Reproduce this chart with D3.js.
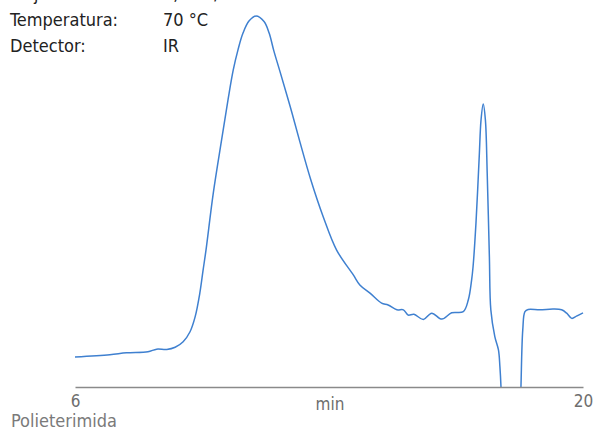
<!DOCTYPE html>
<html>
<head>
<meta charset="utf-8">
<script src="https://cdn.jsdelivr.net/npm/d3@7"></script>
<style>
    body { margin: 0; background: #fff; }
    svg { display: block; }
</style>
</head>
<body>
<div id="chart"></div>
<script>
// retention time (min) and detector signal (arbitrary units)
const time = [6.00, 6.96, 7.42, 8.01, 8.25, 8.53, 8.76, 8.98, 9.17, 9.31, 9.44, 9.53, 9.61, 9.81, 10.04, 10.22, 10.36, 10.49, 10.63, 10.80,
    10.99, 11.21, 11.35, 11.48, 11.65, 11.93, 12.20, 12.50, 12.84, 13.21, 13.67, 13.85, 14.13, 14.45, 14.63, 14.87, 15.05, 15.18, 15.34,
    15.60, 15.83, 16.11, 16.38, 16.70, 16.84, 16.93, 16.97, 17.05, 17.14, 17.19, 17.25, 17.31, 17.36, 17.42, 17.46, 17.57, 17.67, 17.71,
    17.74, 17.77, 18.26, 18.29, 18.34, 18.40, 18.49, 18.81, 19.18, 19.41, 19.55, 19.69, 19.82, 20.00];
const signal = [8.1, 8.7, 9.2, 9.5, 10.2, 10.1, 10.7, 12.2, 14.9, 18.9, 25.3, 31.5, 36.9, 52.2, 66.6, 77.6, 85.4, 90.8, 95.4, 98.7,
    100, 98.5, 95.4, 90.6, 85.0, 75.6, 66.0, 55.8, 45.9, 36.9, 30.2, 27.5, 25.3, 22.6, 22.1, 20.8, 20.8, 19.4, 19.6,
    18.2, 19.9, 18.3, 20.0, 20.3, 23.5, 28.8, 32.4, 44.1, 62.1, 72.0, 76.3, 72.0, 57.6, 35.1, 20.8, 13.6, 10.0, 5.5,
    0, -10, -10, 0, 15.4, 20.3, 20.9, 20.8, 21.0, 20.8, 19.9, 18.5, 19.1, 20.0];

const xTicks = [6, 20];
const xTitle = 'min';
const sampleName = 'Polieterimida';
const conditionLabels = ['Flujo:', 'Temperatura:', 'Detector:'];
const conditionValues = ['1,0 ml/min', '70 °C', 'IR'];

const W = 601, H = 430;
const plotLeft = 75, plotRight = 583, plotTop = 16, axisY = 387;
const FONT = '"Liberation Sans Narrow", "DejaVu Sans Condensed", sans-serif';

const svg = d3.select('#chart').append('svg')
    .attr('width', W).attr('height', H)
    .attr('viewBox', `0 0 ${W} ${H}`);

const x = d3.scaleLinear().domain([6, 20]).range([plotLeft, plotRight]);
const y = d3.scaleLinear().domain([0, 100]).range([axisY, plotTop]);

// conditions block, top left (first row is cut by the page edge, as in the source)
const info = svg.append('g')
    .attr('font-family', FONT)
    .attr('font-size', 18).attr('fill', '#222');
conditionLabels.forEach((d, i) => {
    info.append('text').attr('x', 10).attr('y', i * 26).text(d);
    info.append('text').attr('x', 163).attr('y', i * 26).text(conditionValues[i]);
});

// trace, clipped at the baseline
svg.append('clipPath').attr('id', 'plot-clip')
    .append('rect')
    .attr('x', plotLeft - 2).attr('y', 0)
    .attr('width', plotRight - plotLeft + 4).attr('height', axisY);

const line = d3.line()
    .x((d, i) => x(time[i]))
    .y(d => y(d))
    .curve(d3.curveCatmullRom.alpha(0.5));

svg.append('path')
    .datum(signal)
    .attr('clip-path', 'url(#plot-clip)')
    .attr('fill', 'none')
    .attr('stroke', '#3f80d0')
    .attr('stroke-width', 1.5)
    .attr('stroke-linejoin', 'round')
    .attr('d', line);

// x axis
const axis = svg.append('g')
    .attr('transform', `translate(0,${axisY})`)
    .call(d3.axisBottom(x).tickValues(xTicks).tickSize(0).tickPadding(8).tickFormat(d3.format('d')));
axis.select('.domain').attr('stroke', '#8a8a8a').attr('stroke-width', 1.5);
axis.selectAll('text')
    .attr('font-family', FONT)
    .attr('font-size', 17).attr('fill', '#6e6e6e');

svg.append('text')
    .attr('x', (plotLeft + plotRight) / 2 + 1).attr('y', 410)
    .attr('text-anchor', 'middle')
    .attr('font-family', FONT)
    .attr('font-size', 17).attr('fill', '#6e6e6e')
    .text(xTitle);

svg.append('text')
    .attr('x', 11).attr('y', 427)
    .attr('font-family', FONT)
    .attr('font-size', 18).attr('fill', '#7a7a7a')
    .text(sampleName);
</script>
</body>
</html>
